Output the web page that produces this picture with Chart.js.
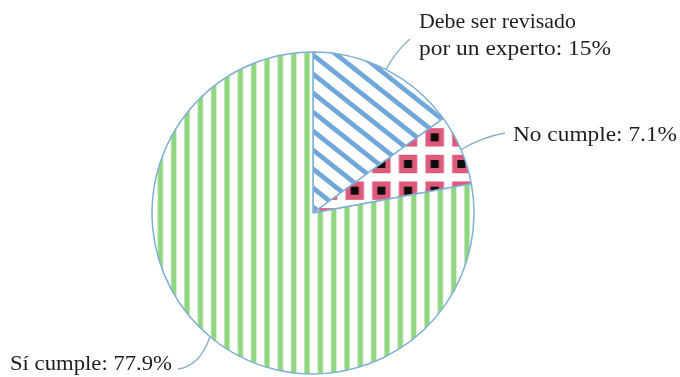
<!DOCTYPE html>
<html>
<head>
<meta charset="utf-8">
<script src="https://cdn.jsdelivr.net/npm/chart.js@4"></script>
<style>
  html, body { margin: 0; padding: 0; background: #ffffff; }
  #wrap { width: 680px; height: 377px; position: relative; }
</style>
</head>
<body>
<div id="wrap"><canvas id="c" width="680" height="377"></canvas></div>
<script>
// ---- data ----
const categories = ['Debe ser revisado por un experto', 'No cumple', 'Sí cumple'];
const categoryLines = [['Debe ser revisado', 'por un experto'], ['No cumple'], ['Sí cumple']];
const values = [15, 7.1, 77.9];

// ---- layout (label placement, leader curve shape) ----
const labelLayout = [
  { x: 419, y: 28, lineGap: 27, widths: [157, 192], end: [410, 39], ctrl: [395, 52] },
  { x: 513, y: 141, lineGap: 27, widths: [164], end: [505, 133], ctrl: [482, 137] },
  { x: 10, y: 370, lineGap: 27, widths: [162], end: [178, 369], ctrl: [200, 366] }
];

function makeTile(w, h, draw) {
  const cv = document.createElement('canvas');
  cv.width = w; cv.height = h;
  const g = cv.getContext('2d');
  g.fillStyle = '#ffffff';
  g.fillRect(0, 0, w, h);
  draw(g, w, h);
  return cv;
}

const ctx = document.getElementById('c').getContext('2d');

// blue diagonal stripes
const blueTile = makeTile(24, 19, (g, w, h) => {
  g.strokeStyle = '#70a7db';
  g.lineWidth = 4.8;
  for (let k = -3; k <= 3; k++) {
    g.beginPath();
    g.moveTo(-2 * w, -2 * h + k * h);
    g.lineTo(3 * w, 3 * h + k * h);
    g.stroke();
  }
});
const bluePat = ctx.createPattern(blueTile, 'repeat');
bluePat.setTransform(new DOMMatrix().translate(313, 55));

// pink squares with black dots
const checkTile = makeTile(80, 80, (g, w, h) => {
  const p = 80 / 3;
  for (let i = 0; i < 3; i++) for (let j = 0; j < 3; j++) {
    const cx = p / 2 + i * p, cy = p / 2 + j * p;
    g.fillStyle = '#de5a7c';
    g.fillRect(cx - 9.2, cy - 9.2, 18.4, 18.4);
    g.fillStyle = '#0c0c0c';
    g.fillRect(cx - 4, cy - 4, 8, 8);
  }
});
const checkPat = ctx.createPattern(checkTile, 'repeat');
checkPat.setTransform(new DOMMatrix().translate(354.7 - 40 / 3, 137.3 - 40 / 3));

// green vertical stripes
const greenTile = makeTile(40, 40, (g, w, h) => {
  const p = 40 / 3;
  g.fillStyle = '#8fd67f';
  for (let i = 0; i < 3; i++) {
    const cx = p / 2 + i * p;
    g.fillRect(cx - 2.6, 0, 5.2, h);
  }
});
const greenPat = ctx.createPattern(greenTile, 'repeat');
greenPat.setTransform(new DOMMatrix().translate(307 - 20 / 3, 0));

const leaderPlugin = {
  id: 'leaders',
  afterDatasetsDraw(chart) {
    const c = chart.ctx;
    const meta = chart.getDatasetMeta(0);
    meta.data.forEach((arc, i) => {
      const p = arc.getProps(['x', 'y', 'startAngle', 'endAngle', 'outerRadius'], true);
      const mid = (p.startAngle + p.endAngle) / 2;
      const sx = p.x + p.outerRadius * Math.cos(mid);
      const sy = p.y + p.outerRadius * Math.sin(mid);
      const L = labelLayout[i];
      c.save();
      c.strokeStyle = '#8db2cf';
      c.lineWidth = 1.4;
      c.beginPath();
      c.moveTo(sx, sy);
      c.quadraticCurveTo(L.ctrl[0], L.ctrl[1], L.end[0], L.end[1]);
      c.stroke();
      c.restore();

      const lines = categoryLines[i].slice();
      lines[lines.length - 1] = lines[lines.length - 1] + ': ' + values[i] + '%';
      c.save();
      c.fillStyle = '#1e1e1e';
      c.font = '21px "Liberation Serif"';
      c.textBaseline = 'alphabetic';
      c.textAlign = 'left';
      lines.forEach((t, li) => {
        const w = c.measureText(t).width;
        const sc = L.widths[li] / w;
        c.save();
        c.translate(L.x, L.y + li * L.lineGap);
        c.scale(sc, 1);
        c.fillText(t, 0, 0);
        c.restore();
      });
      c.restore();
    });
  }
};

new Chart(ctx, {
  type: 'pie',
  data: {
    labels: categories,
    datasets: [{
      data: values,
      backgroundColor: [bluePat, checkPat, greenPat],
      borderColor: '#80afd6',
      borderWidth: 1.5,
      radius: 161
    }]
  },
  options: {
    responsive: false,
    animation: false,
    layout: { padding: { left: 0, right: 54, top: 49, bottom: 0 } },
    plugins: { legend: { display: false }, tooltip: { enabled: false } }
  },
  plugins: [leaderPlugin]
});
</script>
</body>
</html>
